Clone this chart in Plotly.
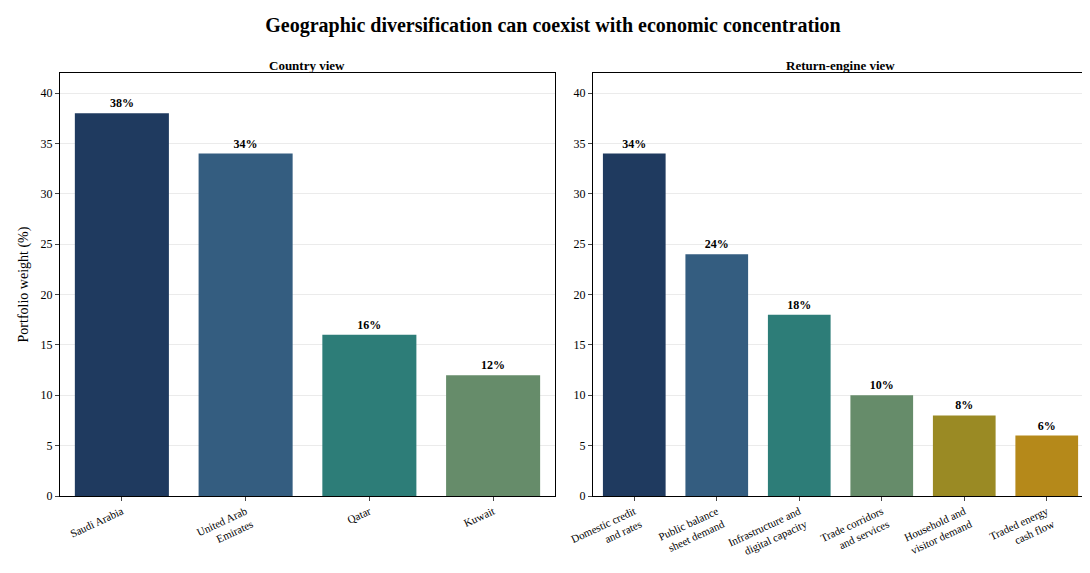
import plotly.graph_objects as go
from plotly.subplots import make_subplots

countries = ["Saudi Arabia", "United Arab<br>Emirates", "Qatar", "Kuwait"]
country_weights = [38, 34, 16, 12]
engines = ["Domestic credit<br>and rates", "Public balance<br>sheet demand", "Infrastructure and<br>digital capacity",
           "Trade corridors<br>and services", "Household and<br>visitor demand", "Traded energy<br>cash flow"]
engine_weights = [34, 24, 18, 10, 8, 6]
colors = ["#1f3a5f", "#345d80", "#2d7d78", "#668c6a", "#9a8a24", "#b5891a"]

fig = make_subplots(rows=1, cols=2, subplot_titles=("<b>Country view</b>", "<b>Return-engine view</b>"),
                    horizontal_spacing=0.037)

fig.add_trace(go.Bar(x=countries, y=country_weights, marker_color=colors[:4],
                     text=[f"<b>{v}%</b>" for v in country_weights], textposition="outside",
                     width=0.76, showlegend=False), row=1, col=1)
fig.add_trace(go.Bar(x=engines, y=engine_weights, marker_color=colors,
                     text=[f"<b>{v}%</b>" for v in engine_weights], textposition="outside",
                     width=0.76, showlegend=False), row=1, col=2)

fig.update_traces(textfont=dict(size=12, color="black"), cliponaxis=False, marker_line_width=0)
fig.update_yaxes(range=[0, 42], dtick=5, showgrid=True, gridcolor="#ebebeb", showline=True,
                 linecolor="black", mirror=True, ticks="outside", ticklen=4, zeroline=False,
                 automargin=False)
fig.update_xaxes(showline=True, linecolor="black", mirror=True, ticks="outside", ticklen=4,
                 tickangle=-25, automargin=False, tickfont=dict(size=11))
fig.update_yaxes(title_text="Portfolio weight (%)", title_standoff=8, row=1, col=1)
fig.update_annotations(font=dict(size=13, color="black"), yshift=-2)

fig.update_layout(
    title=dict(text="<b>Geographic diversification can coexist with economic concentration</b>",
               x=0.5, y=0.97, yanchor="middle", xanchor="center", font=dict(size=20, color="black")),
    font=dict(family="Liberation Serif, Times New Roman, serif", size=12, color="black"),
    plot_bgcolor="white", paper_bgcolor="white",
    width=1090, height=573, margin=dict(l=52, r=10, t=65, b=85, autoexpand=False),
)
fig.write_html("out.html")
